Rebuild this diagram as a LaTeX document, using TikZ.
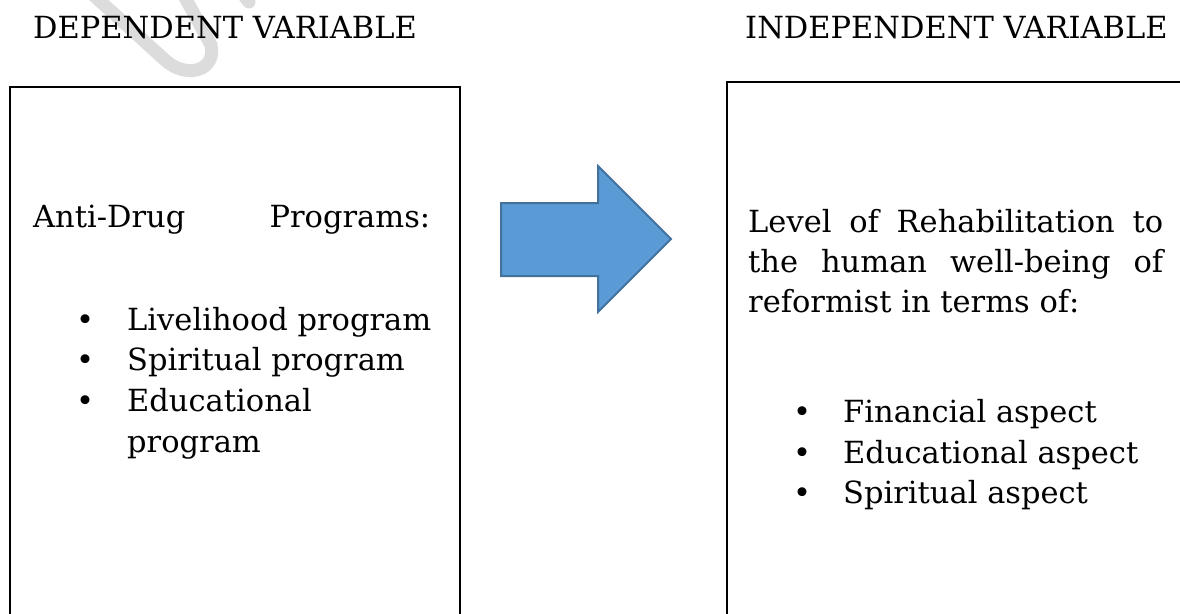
\documentclass[tikz,border=0pt]{standalone}
\usepackage{fontspec}
\setmainfont{DejaVu Serif}
\newcommand{\listdot}[1]{\makebox[0pt][c]{•}\hspace{#1}}
\begin{document}
\begin{tikzpicture}[x=1pt,y=-1pt,
  txt/.style={anchor=base west, inner sep=0pt, font=\fontsize{30.5}{37}\selectfont},
  frame/.style={draw=black, line width=2.6pt, anchor=north west, inner sep=0pt},
  bigarrow/.style={fill=arrowblue, draw=arrowedge, line width=2pt, line join=miter},
  clipmark/.style={draw=markgray, line width=13pt, line cap=round}]
\definecolor{arrowblue}{HTML}{5B9BD5}
\definecolor{arrowedge}{HTML}{41719C}
\definecolor{markgray}{HTML}{DCDCDC}
\useasboundingbox (0,0) rectangle (1180,613);
\clip (0,0) rectangle (1180,613);
\fill[white] (0,0) rectangle (1180,613);

% faint paper-clip mark
\draw[clipmark] (90,-8) -- (165,60) .. controls (187,80) and (217,70) .. (211,45) -- (182,-8);
\draw[clipmark] (232,-20) -- (249,2);

% headings
\node[txt] (deptitle) at (33,38) {DEPENDENT VARIABLE};
\node[txt] (indtitle) at (745,38) {INDEPENDENT VARIABLE};

% boxes (they run past the lower edge)
\node[frame, minimum width=450pt, minimum height=600pt] (depbox) at (8.5,85.5) {};
\node[frame, minimum width=500pt, minimum height=600pt] (indbox) at (725.5,80.5) {};

% block arrow between the boxes
\draw[bigarrow] (501,203) -- (598,203) -- (598,166) -- (671,239) -- (598,312)
  -- (598,276) -- (501,276) -- cycle;

% left box text
\node[txt] (antidrug) at (33,227) {\makebox[397pt][s]{Anti-Drug Programs:}};
\node[txt] (liv) at (85,330) {\listdot{42pt}Livelihood program};
\node[txt] (spir) at (85,370.7) {\listdot{42pt}Spiritual program};
\node[txt] (edu) at (85,411.4) {\listdot{42pt}Educational};
\node[txt] (edu2) at (127,452) {program};

% right box text
\node[txt] (lvl1) at (748,232) {\makebox[415pt][s]{Level of Rehabilitation to}};
\node[txt] (lvl2) at (748,272) {\makebox[415pt][s]{the human well-being of}};
\node[txt] (lvl3) at (748,312) {reformist in terms of:};
\node[txt] (fin) at (802,422) {\listdot{41pt}Financial aspect};
\node[txt] (eduasp) at (802,463) {\listdot{41pt}Educational aspect};
\node[txt] (spasp) at (802,503) {\listdot{41pt}Spiritual aspect};
\end{tikzpicture}
\end{document}
